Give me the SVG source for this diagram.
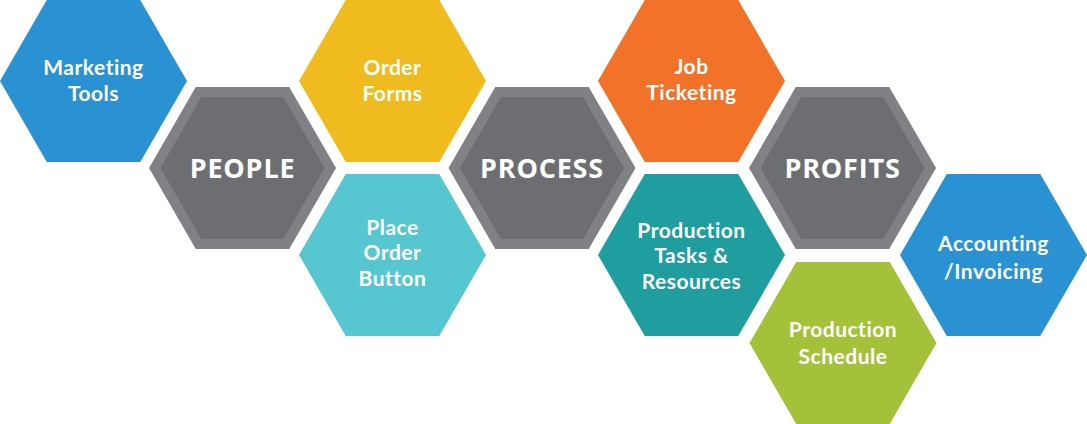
<svg xmlns="http://www.w3.org/2000/svg" xmlns:xlink="http://www.w3.org/1999/xlink" width="1087" height="424" viewBox="0 0 1087 424">
<style>
.t{font-family:Lato,"Liberation Sans",sans-serif;font-weight:700;font-size:21px;letter-spacing:0.5px;fill:#ffffff;text-anchor:middle}
.b{font-family:"Open Sans","Liberation Sans",sans-serif;font-weight:700;font-size:27px;letter-spacing:0.8px;fill:#ffffff;text-anchor:middle}
.outer{fill:#808184}
.inner{fill:#6d6e72}
</style>
<defs>
<polygon id="hex" points="-93.5,0 -46.75,-81 46.75,-81 93.5,0 46.75,81 -46.75,81"/>
<polygon id="hexIn" points="-82,0 -41,-71 41,-71 82,0 41,71 -41,71"/>
</defs>
<rect width="1087" height="424" fill="#ffffff"/>
<g id="connectors"/>
<g id="marketing-tools" transform="translate(93.5,81)">
<use xlink:href="#hex" fill="#2a91d3"/>
<text class="t" y="-6"><tspan x="0">Marketing</tspan><tspan x="0" dy="25.5">Tools</tspan></text>
</g>
<g id="people" transform="translate(242.5,168)">
<use xlink:href="#hex" class="outer"/>
<use xlink:href="#hexIn" class="inner"/>
<text class="b" x="0" y="9.5">PEOPLE</text>
</g>
<g id="order-forms" transform="translate(392.5,81)">
<use xlink:href="#hex" fill="#f0bb1e"/>
<text class="t" y="-6"><tspan x="0">Order</tspan><tspan x="0" dy="25.5">Forms</tspan></text>
</g>
<g id="place-order-button" transform="translate(392.5,255)">
<use xlink:href="#hex" fill="#56c6d1"/>
<text class="t" y="-20.5"><tspan x="0">Place</tspan><tspan x="0" dy="25.5">Order</tspan><tspan x="0" dy="25.5">Button</tspan></text>
</g>
<g id="process" transform="translate(542,168)">
<use xlink:href="#hex" class="outer"/>
<use xlink:href="#hexIn" class="inner"/>
<text class="b" x="0" y="9.5">PROCESS</text>
</g>
<g id="job-ticketing" transform="translate(691.5,81)">
<use xlink:href="#hex" fill="#f37229"/>
<text class="t" y="-7"><tspan x="0">Job</tspan><tspan x="0" dy="25.5">Ticketing</tspan></text>
</g>
<g id="production-tasks" transform="translate(691.5,255)">
<use xlink:href="#hex" fill="#1f9d9f"/>
<text class="t" y="-17.5"><tspan x="0">Production</tspan><tspan x="0" dy="25.5">Tasks &amp;</tspan><tspan x="0" dy="25.5">Resources</tspan></text>
</g>
<g id="profits" transform="translate(842.5,168)">
<use xlink:href="#hex" class="outer"/>
<use xlink:href="#hexIn" class="inner"/>
<text class="b" x="0" y="9.5">PROFITS</text>
</g>
<g id="production-schedule" transform="translate(843,343)">
<use xlink:href="#hex" fill="#a4c13a"/>
<text class="t" y="-6"><tspan x="0">Production</tspan><tspan x="0" dy="27">Schedule</tspan></text>
</g>
<g id="accounting-invoicing" transform="translate(993.5,255)">
<use xlink:href="#hex" fill="#2a91d3"/>
<text class="t" y="-4"><tspan x="0">Accounting</tspan><tspan x="0" dy="28">/Invoicing</tspan></text>
</g>
</svg>
